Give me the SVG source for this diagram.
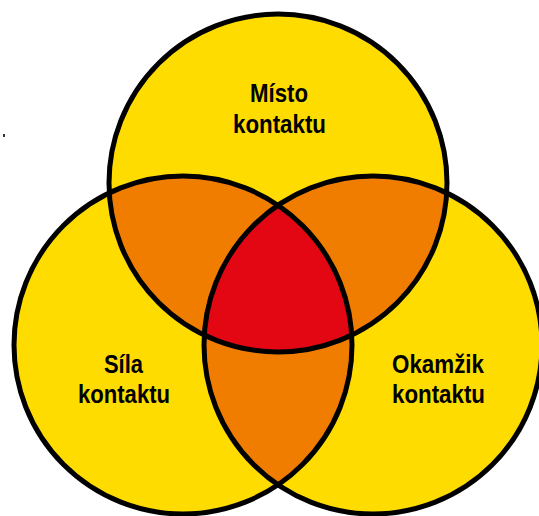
<svg xmlns="http://www.w3.org/2000/svg" width="539" height="516" viewBox="0 0 539 516">
<style>
.y{fill:#FFDC00}
.o{fill:#F07D00}
.r{fill:#E30613}
.ring{fill:none;stroke:#000;stroke-width:5}
.t{font-family:"Liberation Sans Narrow","Liberation Sans",Arial,sans-serif;font-weight:bold;font-size:26px;fill:#000;text-anchor:middle}
</style>
<defs>
<circle id="cT" cx="278" cy="183" r="169"/>
<circle id="cL" cx="183" cy="345" r="169"/>
<circle id="cR" cx="373" cy="345" r="169"/>
<clipPath id="clipT"><use href="#cT"/></clipPath>
<clipPath id="clipL"><use href="#cL"/></clipPath>
<clipPath id="clipR"><use href="#cR"/></clipPath>
</defs>
<rect width="539" height="516" fill="#fff"/>
<rect x="3" y="134" width="2" height="3" fill="#333"/>
<g id="fills">
<use href="#cT" class="y"/>
<use href="#cL" class="y"/>
<use href="#cR" class="y"/>
<g clip-path="url(#clipT)"><use href="#cL" class="o"/><use href="#cR" class="o"/></g>
<g clip-path="url(#clipL)"><use href="#cR" class="o"/></g>
<g clip-path="url(#clipT)"><g clip-path="url(#clipL)"><use href="#cR" class="r"/></g></g>
</g>
<g id="node-misto">
<use href="#cT" class="ring"/>
<text class="t" x="279" y="102" textLength="58" lengthAdjust="spacingAndGlyphs">Místo</text>
<text class="t" x="279.5" y="133" textLength="93" lengthAdjust="spacingAndGlyphs">kontaktu</text>
</g>
<g id="node-sila">
<use href="#cL" class="ring"/>
<text class="t" x="123.5" y="373" textLength="39" lengthAdjust="spacingAndGlyphs">Síla</text>
<text class="t" x="124" y="403" textLength="92" lengthAdjust="spacingAndGlyphs">kontaktu</text>
</g>
<g id="node-okamzik">
<use href="#cR" class="ring"/>
<text class="t" x="438" y="373" textLength="92" lengthAdjust="spacingAndGlyphs">Okamžik</text>
<text class="t" x="438.5" y="403" textLength="93" lengthAdjust="spacingAndGlyphs">kontaktu</text>
</g>
<g id="connectors"/>
</svg>
